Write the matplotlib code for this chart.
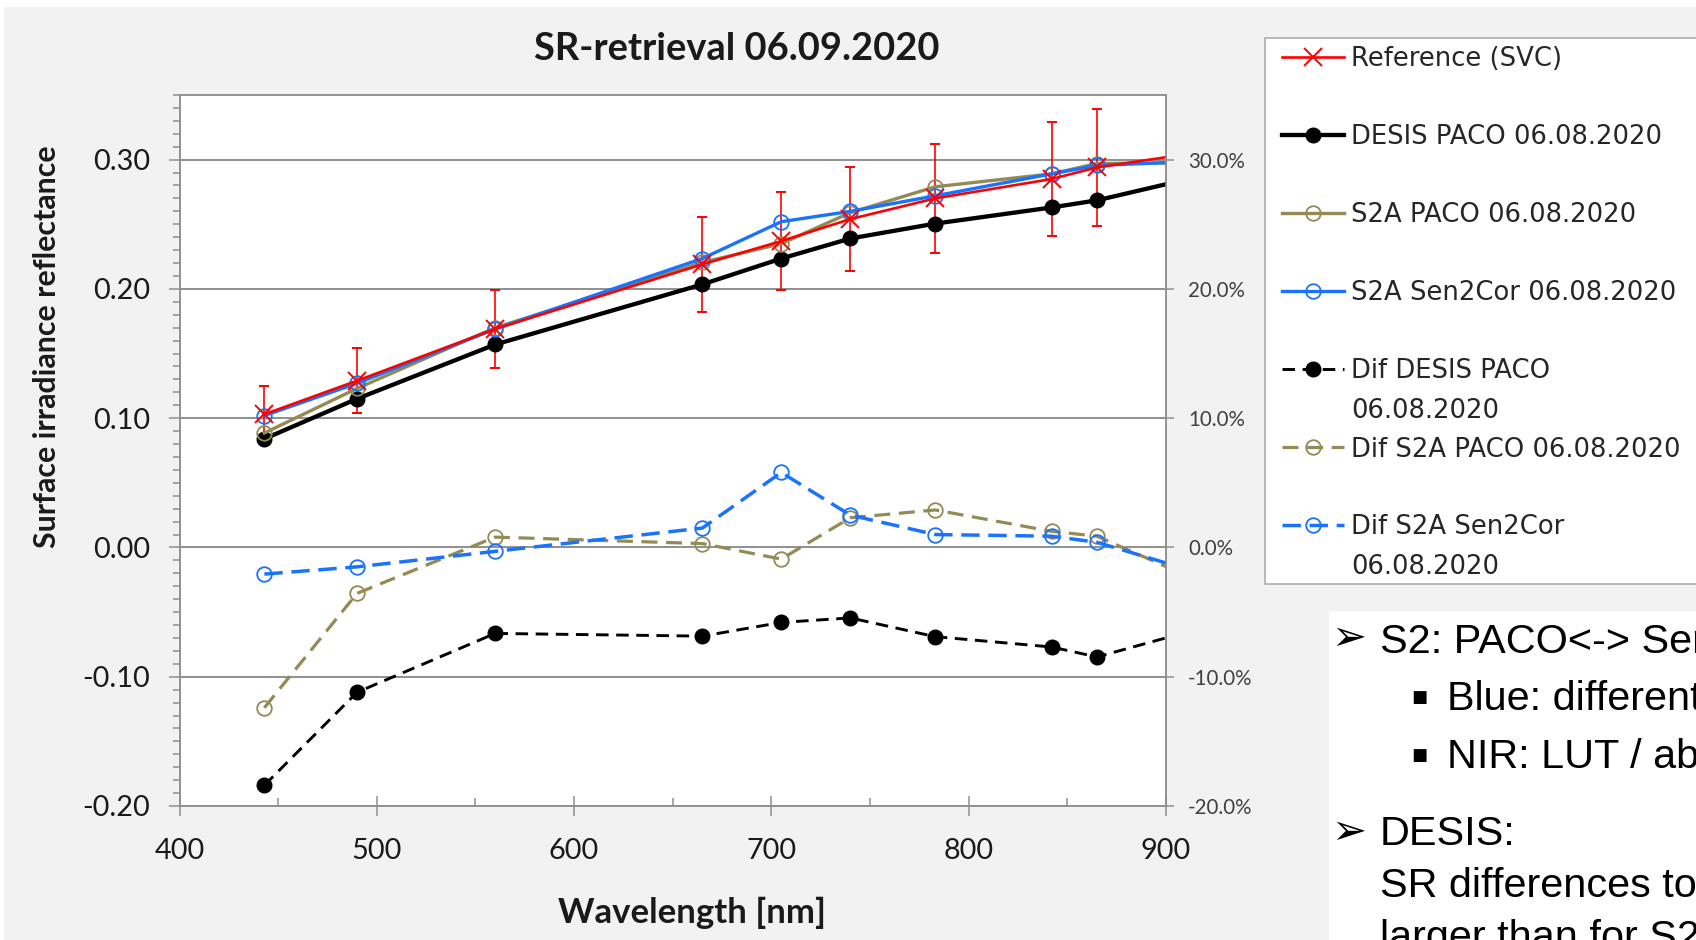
import matplotlib
matplotlib.use("Agg")
import matplotlib.pyplot as plt
from matplotlib.lines import Line2D
from matplotlib.patches import Rectangle
from matplotlib.ticker import MultipleLocator, FuncFormatter

# ---------------- data ----------------
wavelength_nm = [443, 490, 560, 665, 705, 740, 783, 842, 865, 945]
reference_svc = [0.103, 0.129, 0.169, 0.219, 0.237, 0.254, 0.270, 0.285, 0.294, 0.312]
reference_err = [0.022, 0.025, 0.030, 0.037, 0.038, 0.040, 0.042, 0.044, 0.045, 0.047]
desis_paco = [0.084, 0.115, 0.157, 0.2035, 0.2235, 0.239, 0.2505, 0.263, 0.2685, 0.297]
s2a_paco = [0.0885, 0.123, 0.170, 0.2205, 0.235, 0.259, 0.279, 0.289, 0.297, 0.298]
s2a_sen2cor = [0.102, 0.127, 0.169, 0.2235, 0.252, 0.260, 0.272, 0.289, 0.2955, 0.3005]
dif_desis_paco = [-0.184, -0.112, -0.0665, -0.0686, -0.058, -0.0545, -0.069, -0.077, -0.0847, -0.051]
dif_s2a_paco = [-0.124, -0.0355, 0.008, 0.003, -0.009, 0.023, 0.029, 0.0125, 0.0087, -0.045]
dif_s2a_sen2cor = [-0.0206, -0.015, -0.003, 0.015, 0.058, 0.025, 0.010, 0.0087, 0.004, -0.0326]

title_text = "SR-retrieval 06.09.2020"
x_label = "Wavelength [nm]"
y_label = "Surface irradiance reflectance"
x_range = (400, 900)
y_range = (-0.20, 0.35)

legend_labels = ["Reference (SVC)", "DESIS PACO 06.08.2020", "S2A PACO 06.08.2020",
                 "S2A Sen2Cor 06.08.2020", "Dif DESIS PACO", "06.08.2020",
                 "Dif S2A PACO 06.08.2020", "Dif S2A Sen2Cor", "06.08.2020"]

note_lines = ["S2: PACO<-> Sen2Cor", "Blue: different", "NIR: LUT / ab",
              "DESIS:", "SR differences to", "larger than for S2"]

# ---------------- style ----------------
RED = "#ff0000"
BLACK = "#000000"
OLIVE = "#948a54"
BLUE = "#1a73ff"
GRAY = "#8f8f8f"

W, H = 1696, 940
plt.rcParams["font.family"] = ["Lato", "DejaVu Sans"]

fig = plt.figure(figsize=(W / 100, H / 100), dpi=100, facecolor="white")
renderer = fig.canvas.get_renderer()

def fx(px):
    return px / W

def fy(py):
    return 1 - py / H

def fit(s, target, weight="normal", family=("Lato",), dim="w"):
    t = fig.text(0, 0, s, fontsize=20, fontweight=weight, family=list(family))
    bb = t.get_window_extent(renderer=renderer)
    t.remove()
    return 20 * target / (bb.width if dim == "w" else bb.height)

fs_tick = fit("0.30", 57)
fs_right = fit("30.0%", 57)
fs_title = fit(title_text, 405, "bold")
fs_xlabel = fit(x_label, 267, "bold")
fs_ylabel = fit(y_label, 402, "bold")
fs_leg = fit("DESIS PACO 06.08.2020", 312, family=("DejaVu Sans",))
fs_note = fit("DESIS:", 135, family=("Liberation Sans",))

# backgrounds
fig.add_artist(Rectangle((fx(4), 0), 1 - fx(4), fy(7), transform=fig.transFigure,
                         facecolor="#f2f2f2", edgecolor="none", zorder=-10))
fig.add_artist(Rectangle((fx(1329), 0), 1 - fx(1329), fy(611), transform=fig.transFigure,
                         facecolor="white", edgecolor="none", zorder=-9))

# axes
L, R, T, B = 179.5, 1166, 95, 806
ax = fig.add_axes([fx(L), fy(B), (R - L) / W, (B - T) / H])
ax.set_facecolor("white")
ax.set_xlim(*x_range)
ax.set_ylim(*y_range)
ax.xaxis.set_major_locator(MultipleLocator(100))
ax.xaxis.set_minor_locator(MultipleLocator(50))
ax.yaxis.set_major_locator(MultipleLocator(0.1))
ax.yaxis.set_minor_locator(MultipleLocator(0.01))
ax.yaxis.set_major_formatter(FuncFormatter(lambda v, p: f"{v:.2f}"))
ax.xaxis.set_major_formatter(FuncFormatter(lambda v, p: f"{v:.0f}"))
ax.tick_params(axis="x", which="major", direction="inout", length=14, width=1.1,
               color=GRAY, labelsize=fs_tick, pad=16, labelcolor="#1a1a1a")
ax.tick_params(axis="x", which="minor", direction="in", length=5.8, width=1.1, color=GRAY)
ax.tick_params(axis="y", which="major", direction="out", length=7.9, width=1.1,
               color=GRAY, labelsize=fs_tick, pad=13, labelcolor="#1a1a1a")
ax.tick_params(axis="y", which="minor", direction="out", length=4.8, width=1.1, color=GRAY)
ax.yaxis.grid(True, which="major", color=GRAY, linewidth=1.4)
ax.set_axisbelow(True)
for sp in ax.spines.values():
    sp.set_color(GRAY)
    sp.set_linewidth(1.1)

eb = ax.errorbar(wavelength_nm, reference_svc, yerr=reference_err, color=RED, lw=1.9,
                 marker="x", ms=12.5, mew=1.4, ecolor=RED, elinewidth=1.2, capsize=3.6,
                 capthick=1.2, zorder=3)
h_ref = eb[0]
h_desis, = ax.plot(wavelength_nm, desis_paco, color=BLACK, lw=3.1, marker="o", ms=10.5,
                   mfc=BLACK, mec=BLACK, zorder=3)
h_s2p, = ax.plot(wavelength_nm, s2a_paco, color=OLIVE, lw=2.4, marker="o", ms=10.5,
                 mfc="none", mec=OLIVE, mew=1.3, zorder=3)
h_s2c, = ax.plot(wavelength_nm, s2a_sen2cor, color=BLUE, lw=2.4, marker="o", ms=10.5,
                 mfc="none", mec=BLUE, mew=1.3, zorder=3)

# secondary axis for the differences
ax2 = ax.twinx()
ax2.set_ylim(*y_range)
ax2.yaxis.set_major_locator(MultipleLocator(0.1))
ax2.yaxis.set_major_formatter(FuncFormatter(lambda v, p: f"{v * 100:.1f}%"))
ax2.tick_params(axis="y", which="major", direction="out", length=5.5, width=1.1,
                color=GRAY, labelsize=fs_right, pad=10.4, labelcolor="#404040")
for sp in ax2.spines.values():
    sp.set_color(GRAY)
    sp.set_linewidth(1.1)

h_dd, = ax2.plot(wavelength_nm, dif_desis_paco, color=BLACK, lw=2.1, ls=(0, (4.3, 2.6)),
                 marker="o", ms=10.5, mfc=BLACK, mec=BLACK)
h_dp, = ax2.plot(wavelength_nm, dif_s2a_paco, color=OLIVE, lw=2.3, ls=(0, (5, 2.7)),
                 marker="o", ms=10.5, mfc="none", mec=OLIVE, mew=1.3)
h_dc, = ax2.plot(wavelength_nm, dif_s2a_sen2cor, color=BLUE, lw=2.5, ls=(0, (5.3, 2.5)),
                 marker="o", ms=10.5, mfc="none", mec=BLUE, mew=1.3)

# titles / labels
fig.text(fx(737), fy(60), title_text, fontsize=fs_title, fontweight="bold",
         ha="center", va="baseline", color="#1a1a1a")
fig.text(fx(692), fy(923), x_label, fontsize=fs_xlabel, fontweight="bold",
         ha="center", va="baseline", color="#1a1a1a")
fig.text(fx(47), fy(347), y_label, fontsize=fs_ylabel, fontweight="bold",
         ha="center", va="center", rotation=90, color="#1a1a1a")

# legend (frame drawn separately, rows on a fixed pitch like the Excel legend)
fig.add_artist(Rectangle((fx(1265), fy(584)), fx(1702) - fx(1265), fy(38) - fy(584),
                         transform=fig.transFigure, facecolor="white",
                         edgecolor="#a6a6a6", linewidth=1.1, zorder=1))
blank = Line2D([], [], linestyle="none")
rows_h = [h_ref, blank, h_desis, blank, h_s2p, blank, h_s2c, blank,
          h_dd, blank, h_dp, blank, h_dc, blank]
rows_l = [legend_labels[0], " ", legend_labels[1], " ", legend_labels[2], " ",
          legend_labels[3], " ", legend_labels[4], legend_labels[5], legend_labels[6],
          " ", legend_labels[7], legend_labels[8]]

fs_leg_px = fs_leg * 100 / 72

def make_legend(ls):
    return fig.legend(rows_h, rows_l, loc="center left",
                      bbox_to_anchor=(fx(1282), fy(313)), frameon=False,
                      prop={"family": "DejaVu Sans", "size": fs_leg}, labelspacing=ls,
                      handlelength=2.4, handletextpad=0.27, borderpad=0,
                      borderaxespad=0, labelcolor="#262626", numpoints=1)

ls = 0.5
leg = make_legend(ls)
for _ in range(2):
    fig.canvas.draw()
    tx = leg.get_texts()
    y0 = tx[0].get_window_extent(renderer=renderer).y0
    y13 = tx[13].get_window_extent(renderer=renderer).y0
    pitch = (y0 - y13) / 13
    ls = ls + (39.0 - pitch) / fs_leg_px
    leg.remove()
    leg = make_legend(ls)

# slide notes at the right
arrow_fs = fit("\u27a2", 27, family=("DejaVu Sans",)) * 1.3
bullet_fs = fs_note * 1.25
note_fam = ["Liberation Sans", "DejaVu Sans"]
fig.text(fx(1331), fy(638), "\u27a2", fontsize=arrow_fs, family=["DejaVu Sans"],
         ha="left", va="center", color="black")
fig.text(fx(1380), fy(653), note_lines[0], fontsize=fs_note, family=note_fam,
         ha="left", va="baseline", color="black")
fig.text(fx(1410), fy(714), "\u25aa", fontsize=bullet_fs, family=note_fam,
         ha="left", va="baseline", color="black")
fig.text(fx(1447), fy(710), note_lines[1], fontsize=fs_note, family=note_fam,
         ha="left", va="baseline", color="black")
fig.text(fx(1410), fy(772), "\u25aa", fontsize=bullet_fs, family=note_fam,
         ha="left", va="baseline", color="black")
fig.text(fx(1447), fy(768), note_lines[2], fontsize=fs_note, family=note_fam,
         ha="left", va="baseline", color="black")
fig.text(fx(1331), fy(832), "\u27a2", fontsize=arrow_fs, family=["DejaVu Sans"],
         ha="left", va="center", color="black")
fig.text(fx(1380), fy(845), note_lines[3], fontsize=fs_note, family=note_fam,
         ha="left", va="baseline", color="black")
fig.text(fx(1380), fy(897), note_lines[4], fontsize=fs_note, family=note_fam,
         ha="left", va="baseline", color="black")
fig.text(fx(1380), fy(949), note_lines[5], fontsize=fs_note, family=note_fam,
         ha="left", va="baseline", color="black")

fig.savefig("out.png", dpi=100, facecolor=fig.get_facecolor())
